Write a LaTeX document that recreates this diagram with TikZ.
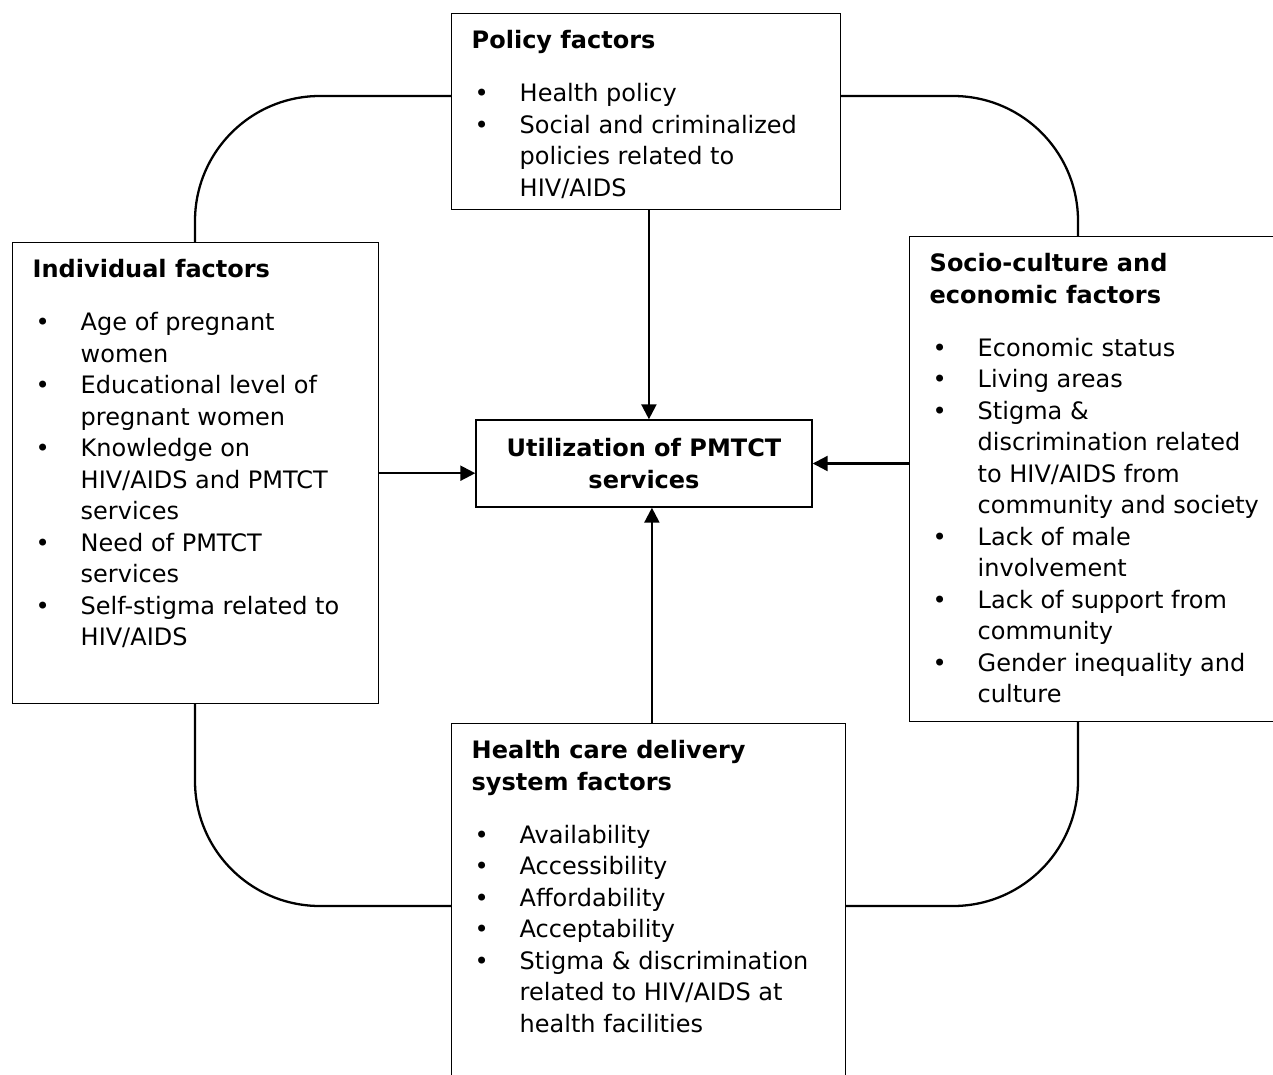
\documentclass[tikz,border=0pt]{standalone}
\usepackage{fontspec}
\setmainfont{DejaVu Sans}
\usetikzlibrary{arrows.meta}

\newlength{\pu}
\setlength{\pu}{0.02cm}
% box body: left padding, fixed height, text from the top
\newcommand{\boxtext}[3]{\hspace*{20\pu}\parbox[c][#2\pu][t]{\dimexpr #1\pu-20\pu\relax}{\parskip=0pt\rightskip=0pt plus 1fil\rule{0pt}{35\pu}#3}}
\newcommand{\itm}[1]{\par\hangindent=48\pu\hangafter=1\makebox[48\pu][l]{\hspace{3\pu}\textbullet}#1}
\newcommand{\ttl}[1]{\textbf{#1}\par\vspace{21.5\pu}}

\begin{document}
\begin{tikzpicture}[x=0.02cm,y=-0.02cm,
  every node/.style={font=\fontsize{13.66}{17.93}\selectfont},
  box/.style={draw, line width=0.8pt, fill=white, inner sep=0pt, anchor=north west},
  ring/.style={line width=1.3pt, rounded corners=2.5cm},
  arr/.style={line width=1.3pt, -{Triangle[length=8.5pt,width=8.5pt]}}]
\useasboundingbox (0,0) rectangle (1273,1074);
\clip (0,0) rectangle (1273,1074);

\draw[ring] (195,96) rectangle (1078,906);

\node[box] (policy) at (451,13) {\boxtext{389}{196}{\ttl{Policy factors}
  \itm{Health policy}
  \itm{Social and criminalized\newline policies related to\newline HIV/AIDS}}};

\node[box] (indiv) at (12,242) {\boxtext{366}{461}{\ttl{Individual factors}
  \itm{Age of pregnant\newline women}
  \itm{Educational level of\newline pregnant women}
  \itm{Knowledge on\newline HIV/AIDS and PMTCT\newline services}
  \itm{Need of PMTCT\newline services}
  \itm{Self-stigma related to\newline HIV/AIDS}}};

\node[box] (socio) at (909,236) {\boxtext{400}{485}{\textbf{Socio-culture and}\newline\ttl{economic factors}
  \itm{Economic status}
  \itm{Living areas}
  \itm{Stigma \&\newline discrimination related\newline to HIV/AIDS from\newline community and society}
  \itm{Lack of male\newline involvement}
  \itm{Lack of support from\newline community}
  \itm{Gender inequality and\newline culture}}};

\node[box] (health) at (451,723) {\boxtext{394}{400}{\textbf{Health care delivery}\newline\ttl{system factors}
  \itm{Availability}
  \itm{Accessibility}
  \itm{Affordability}
  \itm{Acceptability}
  \itm{Stigma \& discrimination\newline related to HIV/AIDS at\newline health facilities}}};

\node[box, anchor=center, minimum width=336\pu, minimum height=87\pu, align=center] (util) at (644,463.5)
  {\textbf{Utilization of PMTCT}\\\textbf{services}};

\coordinate (utop) at ([xshift=2.8pt]util.north);
\coordinate (ubot) at ([xshift=4.5pt]util.south);
\draw[arr] (utop |- policy.south) -- (utop);
\draw[arr] (ubot |- health.north) -- (ubot);
\draw[arr] (indiv.east) -- (indiv.east -| util.west);
\draw[arr] (socio.west |- util.east) -- (util.east);
\end{tikzpicture}
\end{document}
